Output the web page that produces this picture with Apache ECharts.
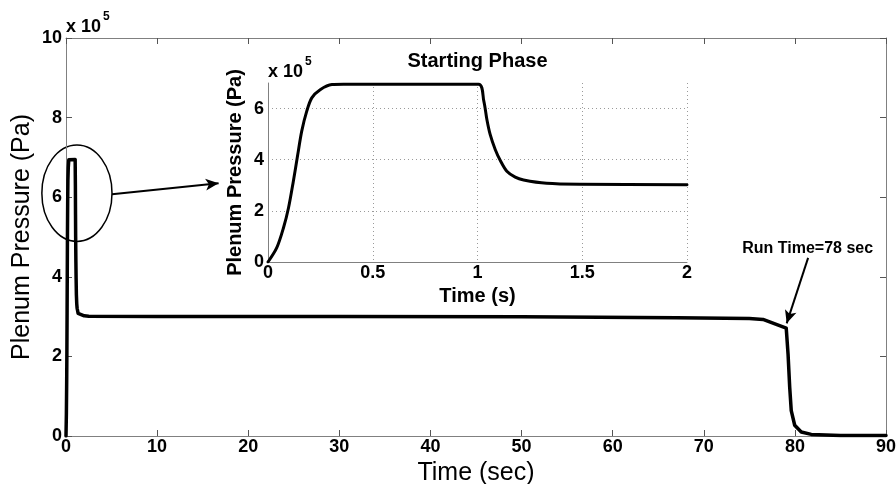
<!DOCTYPE html>
<html>
<head>
<meta charset="utf-8">
<script src="https://cdn.jsdelivr.net/npm/echarts@6/dist/echarts.min.js"></script>
<style>
  html, body { margin: 0; padding: 0; background: #fff; }
  #chart { width: 896px; height: 484px; }
</style>
</head>
<body>
<div id="chart"></div>
<script>
// Starting phase of the plenum pressure (time in s, pressure in Pa)
const startTime = [0, 0.042, 0.074, 0.098, 0.121, 0.142, 0.161, 0.185, 0.209, 0.249, 0.305, 0.36,
                   1.005, 1.03, 1.045, 1.06, 1.085, 1.11, 1.14, 1.18, 1.22, 1.33, 1.49, 2.0];
const startPressure = [0, 56000, 134000, 212000, 316000, 420000, 512000, 590000, 642000, 674000, 694000, 695000,
                       695000, 630000, 556000, 500000, 439000, 395000, 355000, 332000, 321000, 308000, 304000, 302000];

// Remainder of the run after the starting phase
const runTime = [2.5, 10, 30, 50, 67, 75, 76.5, 79.05, 79.25, 79.43, 79.6, 79.98, 80.7, 81.8, 85, 90];
const runPressure = [301000, 300500, 300000, 299500, 297000, 295000, 293000, 271000, 206000,
                     123000, 64000, 27000, 10000, 4000, 1500, 1000];

// Axis ranges / tick steps
const mainTimeTicks = [0, 10, 20, 30, 40, 50, 60, 70, 80, 90];
const mainPressureTicks = [0, 200000, 400000, 600000, 800000, 1000000];
const insetTimeTicks = [0, 0.5, 1, 1.5, 2];
const insetPressureTicks = [0, 200000, 400000, 600000];
const insetPressureMax = 700000;

const FONT = 'Liberation Sans, Arial, Helvetica, sans-serif';
const AXIS_GRAY = '#808080';
const TICK_GRAY = '#555';

const zip = (xs, ys) => xs.map((x, i) => [x, ys[i]]);
const fullRun = zip(startTime, startPressure).concat(zip(runTime, runPressure));
const insetRun = zip(startTime, startPressure);

const step = a => a[1] - a[0];
const pressureLabel = v => (v % 200000 === 0 ? String(v / 100000) : '');

const chart = echarts.init(document.getElementById('chart'), null, { renderer: 'canvas' });

const boxAxis = () => ({
  axisLine: { show: true, onZero: false, lineStyle: { color: AXIS_GRAY, width: 1 } },
  axisTick: { show: true, inside: true, length: 6, lineStyle: { color: TICK_GRAY, width: 1 } },
  splitLine: { show: false }
});
const tickFont = { color: '#000', fontFamily: FONT, fontWeight: 'bold', fontSize: 18 };

chart.setOption({
  animation: false,
  backgroundColor: '#fff',
  grid: [
    { left: 66, right: 10, top: 38, bottom: 48, containLabel: false, outerBoundsMode: 'none' },
    { left: 268, top: 83, width: 419, height: 179, containLabel: false, outerBoundsMode: 'none' }
  ],
  xAxis: [
    Object.assign(boxAxis(), {
      type: 'value', gridIndex: 0, position: 'bottom',
      min: mainTimeTicks[0], max: mainTimeTicks[mainTimeTicks.length - 1], interval: step(mainTimeTicks),
      axisLabel: Object.assign({ margin: 2 }, tickFont),
      name: 'Time (sec)', nameLocation: 'middle', nameGap: 25, nameMoveOverlap: false,
      nameTextStyle: { color: '#000', fontFamily: FONT, fontSize: 25 }
    }),
    Object.assign(boxAxis(), {
      type: 'value', gridIndex: 0, position: 'top',
      min: mainTimeTicks[0], max: mainTimeTicks[mainTimeTicks.length - 1], interval: step(mainTimeTicks),
      axisLabel: { show: false }
    }),
    {
      type: 'value', gridIndex: 1, position: 'bottom',
      min: insetTimeTicks[0], max: insetTimeTicks[insetTimeTicks.length - 1], interval: step(insetTimeTicks),
      axisLine: { show: true, onZero: false, lineStyle: { color: AXIS_GRAY, width: 1 } },
      axisTick: { show: false },
      splitLine: { show: true, showMinLine: false, lineStyle: { color: '#9a9a9a', type: [1, 3], width: 1 } },
      axisLabel: Object.assign({ margin: 2 }, tickFont),
      name: 'Time (s)', nameLocation: 'middle', nameGap: 24, nameMoveOverlap: false,
      nameTextStyle: { color: '#000', fontFamily: FONT, fontWeight: 'bold', fontSize: 20 }
    }
  ],
  yAxis: [
    Object.assign(boxAxis(), {
      type: 'value', gridIndex: 0, position: 'left',
      min: mainPressureTicks[0], max: mainPressureTicks[mainPressureTicks.length - 1], interval: step(mainPressureTicks),
      axisLabel: Object.assign({ margin: 4, formatter: pressureLabel }, tickFont),
      name: 'Plenum Pressure (Pa)', nameLocation: 'middle', nameGap: 31, nameRotate: 90, nameMoveOverlap: false,
      nameTextStyle: { color: '#000', fontFamily: FONT, fontSize: 25 }
    }),
    Object.assign(boxAxis(), {
      type: 'value', gridIndex: 0, position: 'right',
      min: mainPressureTicks[0], max: mainPressureTicks[mainPressureTicks.length - 1], interval: step(mainPressureTicks),
      axisLabel: { show: false }
    }),
    {
      type: 'value', gridIndex: 1, position: 'left',
      min: insetPressureTicks[0], max: insetPressureMax, interval: step(insetPressureTicks),
      axisLine: { show: true, onZero: false, lineStyle: { color: AXIS_GRAY, width: 1 } },
      axisTick: { show: false },
      splitLine: { show: true, showMinLine: false, showMaxLine: false, lineStyle: { color: '#9a9a9a', type: [1, 3], width: 1 } },
      axisLabel: Object.assign({ margin: 4, formatter: pressureLabel, showMaxLabel: false }, tickFont),
      name: 'Plenum Pressure (Pa)', nameLocation: 'middle', nameGap: 23, nameRotate: 90, nameMoveOverlap: false,
      nameTextStyle: { color: '#000', fontFamily: FONT, fontWeight: 'bold', fontSize: 20 }
    }
  ],
  series: [
    {
      type: 'line', xAxisIndex: 0, yAxisIndex: 0,
      data: fullRun, showSymbol: false, symbol: 'none',
      lineStyle: { color: '#000', width: 3.5, join: 'round', cap: 'round' },
      silent: true,
      markLine: {
        silent: true,
        symbol: ['none', 'arrow'],
        symbolSize: [9, 13],
        label: { show: false },
        lineStyle: { color: '#000', width: 2, type: 'solid' },
        emphasis: { disabled: true },
        data: [
          [{ coord: [5.05, 607500] }, { coord: [16.75, 635000] }],
          [{ coord: [81.45, 447500] }, { coord: [79.1, 283000] }]
        ]
      }
    },
    {
      type: 'line', xAxisIndex: 2, yAxisIndex: 2,
      data: insetRun, showSymbol: false, symbol: 'none',
      smooth: 0.3,
      lineStyle: { color: '#000', width: 3, join: 'round', cap: 'round' },
      silent: true
    }
  ]
});

// Decorations placed through the axes' own scales
const toMain = p => chart.convertToPixel({ xAxisIndex: 0, yAxisIndex: 0 }, p);
const toInset = p => chart.convertToPixel({ xAxisIndex: 2, yAxisIndex: 2 }, p);

const ellC = toMain([1.2, 610000]);
const ellE = toMain([1.2 + 3.85, 610000 + 121000]);
const mainTop = toMain([0, mainPressureTicks[mainPressureTicks.length - 1]]);
const insetTop = toInset([0, insetPressureMax]);
const insetMid = toInset([1, insetPressureMax]);
const runLabel = toMain([81.4, 472000]);

function exponentText(origin) {
  return [
    { type: 'text', x: origin[0], y: origin[1] - 10.5,
      style: { text: 'x 10', fill: '#000', font: 'bold 18px ' + FONT, align: 'left', verticalAlign: 'middle' } },
    { type: 'text', x: origin[0] + 37, y: origin[1] - 21,
      style: { text: '5', fill: '#000', font: 'bold 12px ' + FONT, align: 'left', verticalAlign: 'middle' } }
  ];
}

chart.setOption({
  graphic: [
    { type: 'ellipse', silent: true,
      shape: { cx: ellC[0], cy: ellC[1], rx: ellE[0] - ellC[0], ry: ellC[1] - ellE[1] },
      style: { fill: 'none', stroke: '#000', lineWidth: 1.5 } },
    { type: 'text', x: insetMid[0], y: insetTop[1] - 21.5,
      style: { text: 'Starting Phase', fill: '#000', font: 'bold 20px ' + FONT, align: 'center', verticalAlign: 'middle' } },
    { type: 'text', x: runLabel[0], y: runLabel[1],
      style: { text: 'Run Time=78 sec', fill: '#000', font: 'bold 16px ' + FONT, align: 'center', verticalAlign: 'middle' } }
  ].concat(exponentText(mainTop), exponentText(insetTop))
});
</script>
</body>
</html>
